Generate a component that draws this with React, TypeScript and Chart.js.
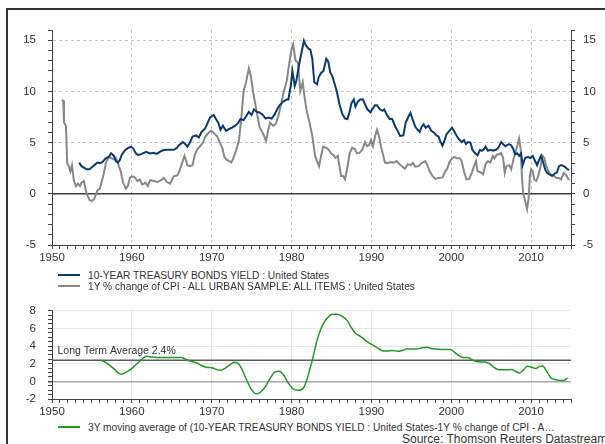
import React, { useEffect, useRef } from "react";
import { Chart, registerables } from "chart.js";

Chart.register(...registerables);

// ---------- data ----------
const yieldYears = [
  1953.4, 1953.7, 1954.0, 1954.3, 1954.7, 1955.0, 1955.3, 1955.7, 1956.0, 1956.3, 1956.7, 1957.1, 1957.4, 1957.75,
  1958.0, 1958.25, 1958.5, 1958.75, 1959.2, 1959.6, 1959.9, 1960.2, 1960.5, 1960.75, 1961.1, 1961.5, 1961.8, 1962.25,
  1962.7, 1963.1, 1963.5, 1963.9, 1964.3, 1964.75, 1965.25, 1965.6, 1965.9, 1966.4, 1966.7, 1966.96, 1967.3, 1967.6,
  1968.05, 1968.4, 1968.7, 1969.2, 1969.5, 1969.8, 1970.25, 1970.5, 1970.85, 1971.1, 1971.4, 1971.8, 1972.1, 1972.5,
  1972.95, 1973.3, 1973.6, 1974.0, 1974.3, 1974.65, 1975.0, 1975.3, 1975.65, 1976.0, 1976.4, 1976.75, 1977.1, 1977.5,
  1977.85, 1978.2, 1978.5, 1978.95, 1979.4, 1979.6, 1979.9, 1980.1, 1980.4, 1980.6, 1980.97, 1981.3, 1981.55, 1981.8,
  1982.15, 1982.35, 1982.6, 1982.85, 1983.2, 1983.4, 1983.7, 1984.0, 1984.35, 1984.6, 1984.85, 1985.1, 1985.45, 1985.7,
  1986.0, 1986.35, 1986.7, 1987.0, 1987.3, 1987.5, 1987.8, 1988.0, 1988.3, 1988.6, 1988.95, 1989.2, 1989.5, 1989.9,
  1990.1, 1990.45, 1990.7, 1991.05, 1991.4, 1991.6, 1991.95, 1992.3, 1992.6, 1993.0, 1993.3, 1993.6, 1994.0, 1994.3,
  1994.65, 1994.9, 1995.15, 1995.5, 1995.8, 1996.05, 1996.3, 1996.55, 1996.8, 1997.15, 1997.5, 1997.8, 1998.15, 1998.4,
  1998.65, 1998.9, 1999.2, 1999.4, 1999.75, 2000.1, 2000.35, 2000.65, 2001.0, 2001.3, 2001.6, 2001.85, 2002.1, 2002.4,
  2002.65, 2003.0, 2003.3, 2003.6, 2003.85, 2004.1, 2004.3, 2004.6, 2004.9, 2005.25, 2005.6, 2005.9, 2006.25, 2006.5,
  2006.8, 2007.2, 2007.5, 2007.75, 2008.0, 2008.25, 2008.5, 2008.75, 2008.95, 2009.25, 2009.6, 2009.9, 2010.2, 2010.5,
  2010.75, 2011.0, 2011.25, 2011.5, 2011.75, 2012.0, 2012.3, 2012.65, 2013.0, 2013.25, 2013.5, 2013.8, 2014.2, 2014.5,
  2014.75,
];
const yieldValues = [
  3.05, 2.7, 2.55, 2.4, 2.4, 2.6, 2.8, 3.05, 3.0, 3.1, 3.45, 3.6, 3.95, 3.7,
  3.2, 3.05, 3.3, 3.85, 4.3, 4.5, 4.6, 4.4, 3.95, 3.8, 3.85, 4.0, 4.1, 3.95,
  4.0, 3.9, 4.1, 4.25, 4.3, 4.3, 4.3, 4.45, 4.75, 5.05, 4.85, 4.6, 5.05, 5.6,
  5.7, 5.5, 6.0, 6.4, 6.95, 7.45, 7.7, 7.35, 6.9, 6.25, 6.65, 6.15, 6.3, 6.45,
  6.65, 6.9, 7.3, 7.2, 7.55, 8.0, 7.7, 8.25, 8.0, 7.95, 7.7, 7.35, 7.45, 7.35,
  7.7, 8.25, 8.65, 9.0, 9.2, 9.2, 10.55, 12.0, 10.55, 11.05, 12.7, 14.0, 14.95, 14.5,
  14.15, 14.1, 13.2, 10.9, 10.7, 11.4, 11.8, 12.0, 13.2, 12.9, 11.85, 11.5, 10.6, 9.9,
  8.75, 7.8, 7.35, 7.3, 8.1, 8.85, 9.2, 8.5, 9.0, 9.2, 9.2, 8.75, 8.25, 7.95,
  8.25, 8.65, 8.65, 8.25, 8.1, 8.25, 7.7, 7.3, 7.3, 6.55, 6.15, 5.65, 5.7, 6.95,
  7.55, 7.9, 7.3, 6.55, 6.25, 6.05, 6.55, 6.8, 6.45, 6.65, 6.15, 6.0, 5.7, 5.6,
  5.1, 4.7, 5.3, 5.8, 6.15, 6.45, 6.15, 5.7, 5.3, 5.05, 5.25, 4.85, 5.05, 5.0,
  4.3, 3.95, 3.75, 4.3, 4.2, 4.35, 4.6, 4.2, 4.3, 4.2, 4.3, 4.5, 5.05, 4.85,
  4.65, 4.85, 4.75, 4.4, 3.85, 3.95, 3.7, 3.95, 2.8, 3.5, 3.6, 3.5, 3.7, 3.2,
  2.8, 3.3, 3.7, 3.1, 2.4, 2.05, 1.9, 1.75, 2.0, 2.1, 2.7, 2.8, 2.65, 2.45,
  2.3,
];

const cpiYears = [
  1951.2, 1951.4, 1951.5, 1951.75, 1951.9, 1952.1, 1952.3, 1952.5, 1952.75, 1953.0, 1953.25, 1953.5, 1953.7, 1954.0,
  1954.3, 1954.7, 1955.0, 1955.3, 1955.7, 1956.0, 1956.4, 1956.75, 1957.1, 1957.4, 1957.75, 1958.0, 1958.25, 1958.6,
  1958.9, 1959.25, 1959.5, 1959.75, 1960.0, 1960.3, 1960.7, 1961.0, 1961.3, 1961.7, 1962.0, 1962.3, 1962.75, 1963.2,
  1963.7, 1964.0, 1964.4, 1964.8, 1965.25, 1965.7, 1966.0, 1966.3, 1966.6, 1966.96, 1967.3, 1967.6, 1967.9, 1968.2,
  1968.6, 1968.9, 1969.2, 1969.7, 1970.0, 1970.3, 1970.7, 1971.0, 1971.35, 1971.6, 1971.9, 1972.2, 1972.45, 1972.7,
  1973.0, 1973.4, 1973.7, 1974.0, 1974.3, 1974.65, 1974.9, 1975.2, 1975.65, 1976.0, 1976.25, 1976.6, 1976.8, 1977.1,
  1977.3, 1977.7, 1978.0, 1978.35, 1978.7, 1979.0, 1979.4, 1979.7, 1980.0, 1980.2, 1980.5, 1980.8, 1981.1, 1981.4,
  1981.6, 1981.9, 1982.3, 1982.6, 1982.95, 1983.2, 1983.45, 1983.7, 1983.95, 1984.3, 1984.6, 1984.95, 1985.3, 1985.5,
  1985.8, 1986.0, 1986.2, 1986.45, 1986.7, 1986.95, 1987.3, 1987.6, 1987.95, 1988.2, 1988.5, 1988.9, 1989.2, 1989.45,
  1989.7, 1989.95, 1990.2, 1990.45, 1990.7, 1990.95, 1991.2, 1991.45, 1991.7, 1992.05, 1992.4, 1992.8, 1993.15, 1993.5,
  1993.9, 1994.2, 1994.55, 1994.9, 1995.2, 1995.5, 1995.9, 1996.3, 1996.75, 1997.0, 1997.3, 1997.65, 1998.0, 1998.4,
  1998.9, 1999.25, 1999.5, 1999.75, 2000.0, 2000.35, 2000.65, 2001.1, 2001.3, 2001.6, 2001.9, 2002.25, 2002.6, 2002.85,
  2003.1, 2003.3, 2003.7, 2004.0, 2004.3, 2004.6, 2004.9, 2005.2, 2005.4, 2005.7, 2006.0, 2006.25, 2006.5, 2006.7,
  2006.9, 2007.25, 2007.5, 2007.75, 2008.0, 2008.25, 2008.5, 2008.7, 2008.85, 2009.0, 2009.25, 2009.5, 2009.7, 2009.85,
  2010.0, 2010.2, 2010.4, 2010.65, 2010.9, 2011.2, 2011.4, 2011.65, 2011.9, 2012.25, 2012.6, 2012.8, 2013.2, 2013.5,
  2013.75, 2014.1, 2014.4, 2014.75,
];
const cpiValues = [
  9.15, 9.1, 7.0, 6.6, 3.0, 2.7, 2.2, 2.8, 1.25, 0.75, 1.0, 0.75, 1.1, 1.25,
  0.1, -0.6, -0.7, -0.5, 0.35, 0.5, 1.7, 3.0, 3.6, 3.5, 3.35, 3.5, 3.0, 2.2,
  1.1, 0.5, 0.75, 1.55, 1.7, 1.65, 1.25, 1.4, 0.9, 1.1, 0.75, 1.35, 1.25, 1.15,
  1.35, 1.55, 1.15, 1.0, 1.7, 1.8, 2.3, 3.05, 3.7, 2.8, 2.7, 2.8, 3.85, 4.35,
  4.7, 5.0, 5.6, 6.05, 6.15, 5.9, 5.6, 5.05, 4.4, 3.6, 3.3, 3.2, 3.05, 3.45,
  4.1, 5.15, 7.3, 10.05, 10.9, 12.25, 11.5, 9.9, 7.95, 6.5, 6.15, 5.6, 5.15, 6.3,
  6.95, 6.65, 6.8, 7.6, 8.75, 9.9, 11.05, 12.7, 14.15, 14.6, 13.0, 12.85, 10.05, 10.9,
  9.6, 8.1, 6.8, 5.65, 3.7, 3.2, 2.7, 3.7, 4.6, 4.5, 4.35, 3.95, 3.75, 3.5,
  3.7, 2.7, 1.75, 1.75, 1.4, 2.4, 4.0, 4.5, 4.35, 3.95, 4.0, 4.35, 5.05, 4.65,
  4.75, 5.25, 4.65, 5.6, 6.25, 5.65, 4.65, 3.85, 3.05, 3.0, 3.1, 3.05, 3.2, 2.9,
  2.65, 2.45, 2.9, 2.8, 3.0, 2.65, 2.7, 3.0, 3.2, 2.8, 2.2, 1.75, 1.45, 1.55,
  1.6, 2.2, 2.45, 3.05, 3.35, 3.6, 3.5, 3.45, 3.2, 2.2, 1.4, 1.45, 2.1, 2.7,
  3.2, 2.2, 2.1, 1.9, 2.9, 3.2, 3.05, 3.7, 3.45, 3.85, 3.85, 4.0, 3.5, 2.05,
  2.7, 2.8, 2.4, 3.2, 3.95, 4.65, 5.4, 4.35, 1.75, 0.1, -0.7, -1.5, -0.4, 1.75,
  2.4, 2.2, 1.4, 1.25, 1.75, 2.7, 3.75, 3.5, 2.7, 2.1, 1.75, 1.8, 1.55, 1.55,
  1.4, 2.05, 1.8, 1.35,
];

const spreadYears = [
  1956.1, 1956.6, 1957.25, 1957.9, 1958.3, 1958.7, 1959.1, 1959.75, 1960.4, 1960.8, 1961.3, 1961.85, 1962.5, 1963.1,
  1963.9, 1964.75, 1965.6, 1966.2, 1966.85, 1967.5, 1968.1, 1968.7, 1969.35, 1970.0, 1970.6, 1971.1, 1971.65, 1972.3,
  1972.8, 1973.2, 1973.75, 1974.4, 1975.0, 1975.5, 1976.0, 1976.65, 1977.3, 1977.9, 1978.45, 1978.95, 1979.6, 1980.2,
  1980.85, 1981.4, 1981.9, 1982.3, 1982.55, 1982.8, 1983.2, 1983.6, 1984.1, 1984.65, 1985.1, 1985.7, 1986.35, 1987.0,
  1987.45, 1988.0, 1988.6, 1989.25, 1989.9, 1990.5, 1990.9, 1991.45, 1992.0, 1992.6, 1993.3, 1993.85, 1994.45, 1995.1,
  1995.7, 1996.35, 1997.0, 1997.6, 1998.2, 1999.05, 1999.9, 2000.4, 2000.9, 2001.45, 2002.05, 2002.6, 2003.1, 2003.7,
  2004.25, 2004.8, 2005.3, 2005.8, 2006.35, 2006.95, 2007.6, 2008.0, 2008.55, 2009.05, 2009.55, 2010.1, 2010.6, 2011.05,
  2011.45, 2011.95, 2012.45, 2013.0, 2013.6, 2014.1, 2014.55,
];
const spreadValues = [
  2.38, 2.2, 1.8, 1.3, 0.95, 0.8, 0.95, 1.3, 1.8, 2.1, 2.55, 2.85, 2.75, 2.7,
  2.7, 2.7, 2.7, 2.7, 2.45, 2.25, 2.1, 1.8, 1.6, 1.55, 1.35, 1.25, 1.45, 1.9,
  2.15, 2.1, 1.45, 0.1, -0.95, -1.4, -1.3, -0.7, 0.3, 1.05, 1.15, 0.8, -0.2, -0.85,
  -1.0, -0.85, 0.1, 1.4, 2.2, 3.15, 4.65, 5.75, 6.7, 7.35, 7.6, 7.6, 7.35, 6.85,
  6.15, 5.45, 5.1, 4.65, 4.25, 3.95, 3.7, 3.45, 3.45, 3.5, 3.4, 3.5, 3.65, 3.65,
  3.65, 3.8, 3.85, 3.7, 3.65, 3.6, 3.6, 3.3, 2.95, 2.7, 2.7, 2.45, 2.25, 2.2,
  2.2, 2.0, 1.6, 1.35, 1.3, 1.3, 1.35, 1.15, 0.95, 1.3, 1.7, 1.6, 1.45, 1.7,
  1.75, 1.15, 0.4, 0.2, 0.1, 0.1, 0.4,
];

const xTickLabels = [1950, 1960, 1970, 1980, 1990, 2000, 2010];
const topYTickLabels = [-5, 0, 5, 10, 15];
const bottomYTickLabels = [-2, 0, 2, 4, 6, 8];
const longTermAverage = 2.4;

const topLegendLabels = [
  "10-YEAR TREASURY BONDS YIELD : United States",
  "1Y % change of CPI - ALL URBAN SAMPLE: ALL ITEMS : United States",
];
const bottomLegendLabel =
  "3Y moving average of (10-YEAR TREASURY BONDS YIELD : United States-1Y % change of CPI - A…";
const sourceLabel = "Source: Thomson Reuters Datastream";

// ---------- styles ----------
const FONT = "'Liberation Sans', Arial, sans-serif";
const NAVY = "#0b3a6f";
const GREY = "#888888";
const GREEN = "#1f9a22";
const TEXT = "#333333";
const TRANSPARENT = "rgba(0,0,0,0)";

const TOP_H = 265;
const BOT_TOP = 290;
const BOT_H = 130;

const isInt = (v: number) => Math.abs(v - Math.round(v)) < 1e-6;
const pts = (xs: number[], ys: number[]) => xs.map((x, i) => ({ x, y: ys[i] }));

export default function App() {
  const topRef = useRef<HTMLCanvasElement | null>(null);
  const botRef = useRef<HTMLCanvasElement | null>(null);

  useEffect(() => {
    const tickFont = { family: FONT, size: 11.5 };

    const xAxis = (gridColor: string, height: number, dash: number[]) => ({
      type: "linear" as const,
      min: 1950,
      max: 2015,
      afterFit: (s: any) => {
        s.height = height;
      },
      ticks: {
        stepSize: 1,
        autoSkip: false,
        maxRotation: 0,
        padding: 2,
        color: TEXT,
        font: tickFont,
        callback: (v: any) => (isInt(v) && xTickLabels.includes(Math.round(v)) ? String(Math.round(v)) : ""),
      },
      grid: {
        color: (c: any) => {
          const v = c.tick ? Math.round(c.tick.value) : 0;
          return c.tick && isInt(c.tick.value) && v % 10 === 0 && v > 1950 && v < 2015 ? gridColor : TRANSPARENT;
        },
        tickColor: "#444",
        tickLength: 4,
        lineWidth: 1,
      },
      border: { color: "#444", width: 1, dash },
    });

    const top = new Chart(topRef.current as HTMLCanvasElement, {
      type: "line",
      data: {
        datasets: [
          {
            label: topLegendLabels[0],
            data: pts(yieldYears, yieldValues),
            borderColor: NAVY,
            backgroundColor: NAVY,
            borderWidth: 2,
            pointRadius: 0,
            tension: 0,
          },
          {
            label: topLegendLabels[1],
            data: pts(cpiYears, cpiValues),
            borderColor: GREY,
            backgroundColor: GREY,
            borderWidth: 2,
            pointRadius: 0,
            tension: 0,
          },
          {
            label: "zero",
            data: [
              { x: 1950, y: 0 },
              { x: 2015, y: 0 },
            ],
            borderColor: "#3a3a3a",
            borderWidth: 1.5,
            pointRadius: 0,
          },
        ],
      },
      options: {
        responsive: false,
        animation: false,
        events: [],
        layout: { padding: { top: 30, left: 0, right: 0, bottom: 0 } },
        plugins: { legend: { display: false }, tooltip: { enabled: false } },
        scales: {
          x: xAxis("#c6c6c6", TOP_H - 245, [3, 3]) as any,
          y: {
            type: "linear",
            position: "left",
            min: -5,
            max: 16,
            afterFit: (s: any) => {
              s.width = 52;
            },
            ticks: {
              stepSize: 1,
              autoSkip: false,
              padding: 12,
              color: TEXT,
              font: tickFont,
              callback: (v: any) => (isInt(v) && topYTickLabels.includes(Math.round(v)) ? String(Math.round(v)) : ""),
            },
            grid: {
              color: (c: any) => {
                const v = c.tick ? Math.round(c.tick.value) : 0;
                return c.tick && isInt(c.tick.value) && v % 5 === 0 && v > -5 && v !== 0 ? "#c6c6c6" : TRANSPARENT;
              },
              tickColor: "#444",
              tickLength: 4,
            },
            border: { color: "#444", width: 1, dash: [3, 3] },
          },
          y2: {
            type: "linear",
            position: "right",
            min: -5,
            max: 16,
            afterFit: (s: any) => {
              s.width = 34;
            },
            ticks: {
              stepSize: 1,
              autoSkip: false,
              padding: 8,
              color: TEXT,
              font: tickFont,
              callback: (v: any) => (isInt(v) && topYTickLabels.includes(Math.round(v)) ? String(Math.round(v)) : ""),
            },
            grid: { drawOnChartArea: false, tickColor: "#444", tickLength: 4 },
            border: { color: "#444", width: 1 },
          },
        },
      },
    });

    const ltaLabel = {
      id: "ltaLabel",
      afterDatasetsDraw(chart: any) {
        const { ctx, chartArea, scales } = chart;
        const y = scales.y.getPixelForValue(longTermAverage);
        ctx.save();
        ctx.font = `10.5px ${FONT}`;
        ctx.fillStyle = TEXT;
        ctx.textBaseline = "middle";
        ctx.textAlign = "left";
        ctx.fillText(`Long Term Average ${longTermAverage}%`, chartArea.left + 5.5, y - 9);
        ctx.restore();
      },
    };

    const bottom = new Chart(botRef.current as HTMLCanvasElement, {
      type: "line",
      data: {
        datasets: [
          {
            label: bottomLegendLabel,
            data: pts(spreadYears, spreadValues),
            borderColor: GREEN,
            backgroundColor: GREEN,
            borderWidth: 1.5,
            pointRadius: 0,
            cubicInterpolationMode: "monotone",
          },
          {
            label: "Long Term Average",
            data: [
              { x: 1950, y: longTermAverage },
              { x: 2015, y: longTermAverage },
            ],
            borderColor: "#5a5a5a",
            borderWidth: 1.5,
            pointRadius: 0,
          },
        ],
      },
      options: {
        responsive: false,
        animation: false,
        events: [],
        layout: { padding: { top: 20.7, left: 0, right: 34, bottom: 0 } },
        plugins: { legend: { display: false }, tooltip: { enabled: false } },
        scales: {
          x: xAxis("#e6e6e6", BOT_H - 109, []) as any,
          y: {
            type: "linear",
            position: "left",
            min: -2,
            max: 8,
            afterFit: (s: any) => {
              s.width = 52;
            },
            ticks: {
              stepSize: 0.5,
              autoSkip: false,
              padding: 12,
              color: TEXT,
              font: tickFont,
              callback: (v: any) =>
                isInt(v) && bottomYTickLabels.includes(Math.round(v)) ? String(Math.round(v)) : "",
            },
            grid: {
              color: (c: any) => {
                if (!c.tick || !isInt(c.tick.value)) return TRANSPARENT;
                const v = Math.round(c.tick.value);
                if (v === 0) return "#a8a8a8";
                return v % 2 === 0 && v > -2 ? "#e6e6e6" : TRANSPARENT;
              },
              lineWidth: (c: any) => (c.tick && Math.abs(c.tick.value) < 1e-6 ? 1.5 : 1),
              tickColor: "#444",
              tickLength: 4,
            },
            border: { color: "#444", width: 1 },
          },
        },
      },
      plugins: [ltaLabel],
    });

    return () => {
      top.destroy();
      bottom.destroy();
    };
  }, []);

  const legendRow = (color: string, text: string, top: number, weight = 2.5) => (
    <div
      style={{
        position: "absolute",
        left: 58,
        top: top - 6,
        height: 12,
        display: "flex",
        alignItems: "center",
        whiteSpace: "nowrap",
        font: `10.2px ${FONT}`,
        color: TEXT,
      }}
    >
      <span style={{ display: "inline-block", width: 22, height: weight, background: color, marginRight: 8 }} />
      <span>{text}</span>
    </div>
  );

  return (
    <div
      style={{
        position: "fixed",
        left: 0,
        top: 0,
        width: 605,
        height: 444,
        overflow: "hidden",
        background: "#fff",
      }}
    >
      <div
        style={{
          position: "absolute",
          left: 6,
          top: 8,
          width: 700,
          height: 600,
          borderTop: "2px solid #333",
          borderLeft: "2px solid #333",
        }}
      />
      <canvas
        ref={topRef}
        width={605}
        height={TOP_H}
        style={{ position: "absolute", left: 0, top: 0, width: 605, height: TOP_H }}
      />
      <canvas
        ref={botRef}
        width={605}
        height={BOT_H}
        style={{ position: "absolute", left: 0, top: BOT_TOP, width: 605, height: BOT_H }}
      />
      {legendRow(NAVY, topLegendLabels[0], 275)}
      {legendRow(GREY, topLegendLabels[1], 286)}
      {legendRow(GREEN, bottomLegendLabel, 427, 1.5)}
      <div
        style={{
          position: "absolute",
          left: 402,
          top: 432,
          whiteSpace: "nowrap",
          font: `12px ${FONT}`,
          lineHeight: "14px",
          color: TEXT,
        }}
      >
        {sourceLabel}
      </div>
    </div>
  );
}
